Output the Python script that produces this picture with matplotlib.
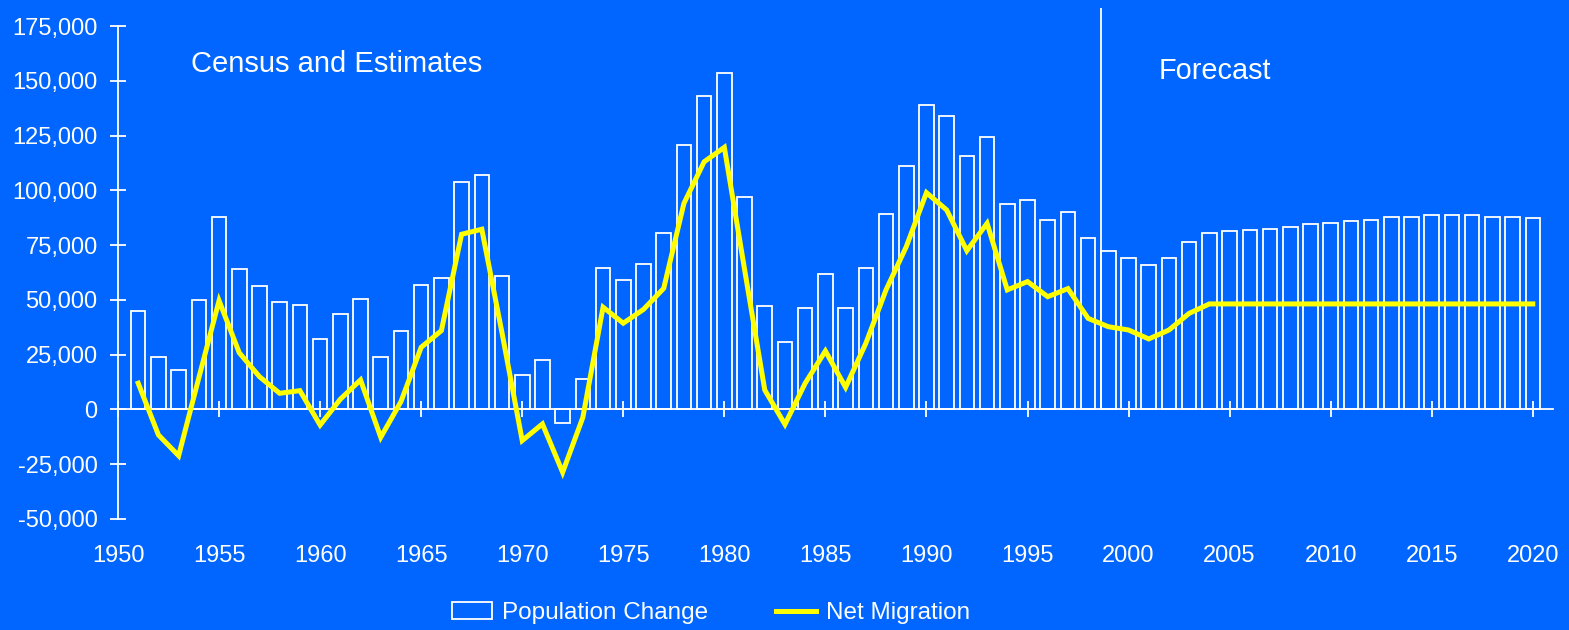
import matplotlib
matplotlib.use("Agg")
import matplotlib.pyplot as plt
from matplotlib.patches import Patch
from matplotlib.lines import Line2D
from matplotlib.ticker import FuncFormatter

plt.rcParams['font.family'] = ['Liberation Sans', 'DejaVu Sans']

# data
years = list(range(1951, 2021))
pop_change = [45000, 24000, 18000, 50000, 88000, 64000, 56400, 49200, 47900, 32000,
              43700, 50600, 24100, 36000, 57000, 59900, 104000, 106900, 61000, 15900,
              22700, -6300, 13900, 64600, 59000, 66600, 80600, 120900, 143000, 153500,
              97200, 47300, 30700, 46500, 61700, 46500, 64600, 89400, 111200, 138900,
              134000, 115900, 124300, 93700, 95800, 86700, 90300, 78400, 72200, 69300,
              66000, 69300, 76500, 80600, 81400, 82000, 82600, 83300, 84700, 85300,
              86100, 86700, 88000, 88000, 88800, 88800, 88800, 88000, 88000, 87400]
net_migration = [12000, -11600, -21100, 14500, 49700, 25900, 15000, 7400, 8600, -7100,
                 4700, 13500, -12700, 3600, 28400, 36000, 80000, 82300, 35000, -14200,
                 -6600, -28700, -3600, 46700, 39400, 45700, 55300, 94100, 113100, 119700,
                 64000, 8900, -6800, 12000, 26700, 10100, 30200, 54600, 74300, 99000,
                 91100, 72500, 85000, 54600, 58400, 51500, 55200, 41600, 37800, 36300,
                 32200, 36300, 43900, 48200, 48200, 48200, 48200, 48200, 48200, 48200,
                 48200, 48200, 48200, 48200, 48200, 48200, 48200, 48200, 48200, 48200]
x_ticks = list(range(1950, 2021, 5))
y_ticks = list(range(-50000, 175001, 25000))
forecast_start = 1998.65

bg = '#0066FF'
fig = plt.figure(figsize=(15.69, 6.3), dpi=100, facecolor=bg)
ax = fig.add_axes([118 / 1569, 111 / 630, 1435 / 1569, 511.4 / 630])
ax.set_facecolor(bg)

# bars and line
ax.bar(years, pop_change, width=0.72, facecolor='none', edgecolor='white', linewidth=1.3, zorder=2)
ax.plot(years, net_migration, color='#FFFF00', linewidth=3.6, solid_joinstyle='miter', zorder=3)

# forecast divider
ax.plot([forecast_start, forecast_start], [0, 183300], color='white', linewidth=1.3, zorder=2)

ax.set_xlim(1950, 2021)
ax.set_ylim(-50000, 183500)

for s in ['top', 'right']:
    ax.spines[s].set_visible(False)
ax.spines['left'].set_color('white')
ax.spines['left'].set_linewidth(1.3)
ax.spines['left'].set_bounds(-50000, 175000)
ax.spines['bottom'].set_position(('data', 0))
ax.spines['bottom'].set_color('white')
ax.spines['bottom'].set_linewidth(1.3)

ax.set_xticks(x_ticks)
ax.set_yticks(y_ticks)
ax.yaxis.set_major_formatter(FuncFormatter(lambda v, p: f"{int(v):,}"))
ax.tick_params(axis='y', direction='inout', length=11.5, width=1.3, color='white',
               labelcolor='white', labelsize=17, pad=9)
ax.tick_params(axis='x', direction='inout', length=11.5, width=1.3, color='white',
               labelcolor='white', labelsize=17, pad=92)

ax.text(1953.6, 154200, 'Census and Estimates', color='white', fontsize=21, va='baseline')
ax.text(2001.5, 150900, 'Forecast', color='white', fontsize=20.8, va='baseline')

handles = [Patch(facecolor='none', edgecolor='white', linewidth=1.3),
           Line2D([], [], color='#FFFF00', linewidth=3.6)]
leg = fig.legend(handles, ['Population Change', 'Net Migration'], loc='center',
                 bbox_to_anchor=(0.453, 0.027), ncol=2, frameon=False, fontsize=17.5,
                 handlelength=1.65, handleheight=0.65, handletextpad=0.4, columnspacing=2.8,
                 labelcolor='white')

fig.savefig('out.png', dpi=100, facecolor=bg)
